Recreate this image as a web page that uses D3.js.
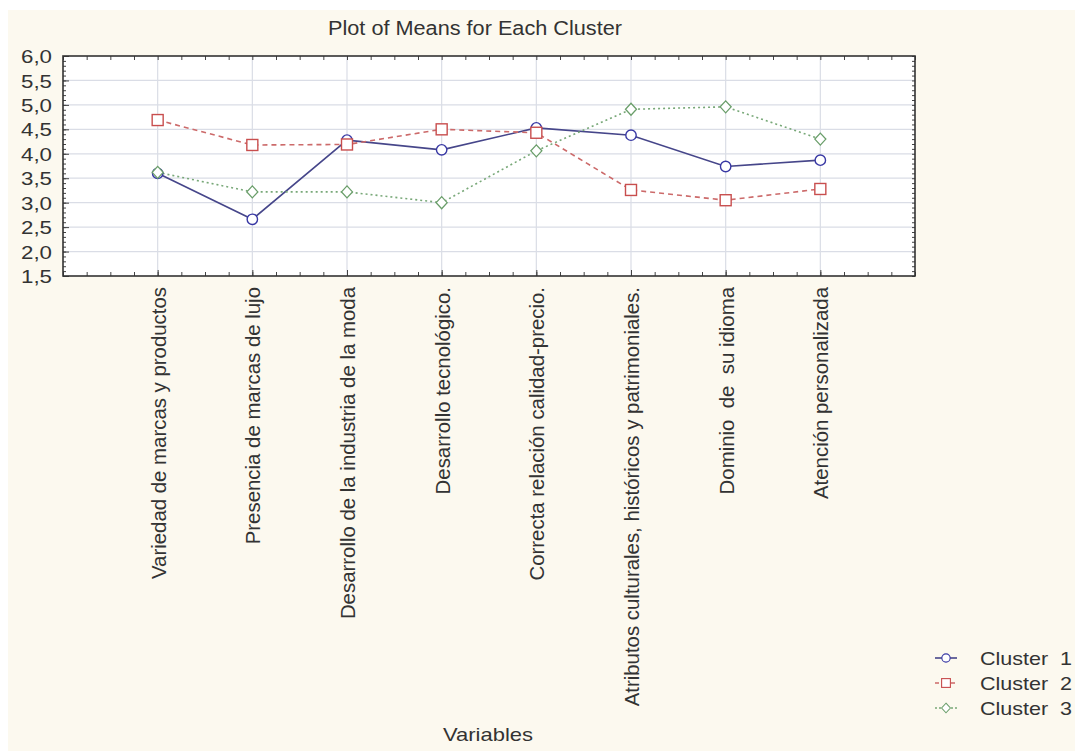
<!DOCTYPE html>
<html>
<head>
<meta charset="utf-8">
<script src="https://cdn.jsdelivr.net/npm/d3@7"></script>
<style>
  body { margin: 0; background: #fff; }
  svg text { font-family: "Liberation Sans", Arial, sans-serif; fill: #333; white-space: pre; }
</style>
</head>
<body>
<div id="chart"></div>
<script>
// data
const categories = [
  "Variedad de marcas y productos",
  "Presencia de marcas de lujo",
  "Desarrollo de la industria de la moda",
  "Desarrollo tecnológico.",
  "Correcta relación calidad-precio.",
  "Atributos culturales, históricos y patrimoniales.",
  "Dominio  de  su idioma",
  "Atención personalizada"
];
const cluster1 = [3.60, 2.66, 4.28, 4.08, 4.53, 4.38, 3.74, 3.87];
const cluster2 = [4.69, 4.18, 4.19, 4.50, 4.43, 3.26, 3.05, 3.28];
const cluster3 = [3.62, 3.22, 3.22, 3.00, 4.06, 4.91, 4.96, 4.30];
const seriesNames = ["Cluster  1", "Cluster  2", "Cluster  3"];
const yTicks = [1.5, 2.0, 2.5, 3.0, 3.5, 4.0, 4.5, 5.0, 5.5, 6.0];

const width = 1075, height = 751;
const margin = { top: 56, right: 160, bottom: 475, left: 63 };

const series = [
  { name: seriesNames[0], values: cluster1, line: "#46468a", mark: "#3838a4", dash: null, shape: "circle" },
  { name: seriesNames[1], values: cluster2, line: "#cc6a6a", mark: "#c84e4e", dash: "5,4", shape: "square" },
  { name: seriesNames[2], values: cluster3, line: "#78a878", mark: "#6a9e6a", dash: "2,3", shape: "diamond" }
];

const svg = d3.select("#chart").append("svg")
  .attr("width", width)
  .attr("height", height);

// cream page background
svg.append("rect").attr("x", 8).attr("y", 10)
  .attr("width", width - 8).attr("height", height - 10)
  .attr("fill", "#fcf9ef");

const x0 = margin.left, x1 = width - margin.right, y0 = margin.top, y1 = height - margin.bottom;

const x = d3.scaleLinear().domain([0, categories.length + 1]).range([x0, x1]);
const y = d3.scaleLinear().domain([1.5, 6]).range([y1, y0]);

// plot area
svg.append("rect").attr("x", x0).attr("y", y0)
  .attr("width", x1 - x0).attr("height", y1 - y0).attr("fill", "#fff");

// grid
svg.append("g").selectAll("line").data(yTicks.slice(1, -1)).join("line")
  .attr("x1", x0).attr("x2", x1)
  .attr("y1", d => y(d)).attr("y2", d => y(d))
  .attr("stroke", "#dadde6").attr("stroke-width", 1.2);
svg.append("g").selectAll("line").data(d3.range(1, categories.length + 1)).join("line")
  .attr("x1", d => x(d)).attr("x2", d => x(d))
  .attr("y1", y0).attr("y2", y1)
  .attr("stroke", "#dadde6").attr("stroke-width", 1.2);

// minor ticks
const minorY = d3.range(15, 61).map(d => d / 10);
const minorX = d3.range(0, (categories.length + 1) * 4 + 1).map(d => d / 4);
const tickStyle = g => g.call(g => g.select(".domain").remove())
  .selectAll("line").attr("stroke", "#444");

svg.append("g").attr("transform", `translate(${x0},0)`)
  .call(d3.axisLeft(y).tickValues(minorY).tickSize(-3).tickFormat("")).call(tickStyle);
svg.append("g").attr("transform", `translate(${x1},0)`)
  .call(d3.axisRight(y).tickValues(minorY).tickSize(-3).tickFormat("")).call(tickStyle);
svg.append("g").attr("transform", `translate(0,${y0})`)
  .call(d3.axisTop(x).tickValues(minorX).tickSize(-4).tickFormat("")).call(tickStyle);
svg.append("g").attr("transform", `translate(0,${y1})`)
  .call(d3.axisBottom(x).tickValues(minorX).tickSize(-4).tickFormat("")).call(tickStyle);

// y axis labels
svg.append("g").attr("transform", `translate(${x0},0)`)
  .call(d3.axisLeft(y).tickValues(yTicks).tickSize(-6)
    .tickFormat(d => d.toFixed(1).replace(".", ",")))
  .call(g => g.select(".domain").remove())
  .call(g => g.selectAll("line").attr("stroke", "#444"))
  .call(g => g.selectAll("text")
    .attr("x", -11).attr("dy", "0.35em")
    .attr("font-size", 19)
    .attr("textLength", 31).attr("lengthAdjust", "spacingAndGlyphs")
    .style("fill", "#333"));

// x axis labels (rotated)
svg.append("g").attr("transform", `translate(0,${y1})`)
  .call(d3.axisBottom(x).tickValues(d3.range(1, categories.length + 1)).tickSize(-6)
    .tickFormat(i => categories[i - 1]))
  .call(g => g.select(".domain").remove())
  .call(g => g.selectAll("line").attr("stroke", "#444"))
  .call(g => g.selectAll("text")
    .attr("transform", "rotate(-90)")
    .attr("x", -11).attr("y", 0).attr("dy", "0.36em")
    .attr("font-size", 20.4)
    .style("text-anchor", "end")
    .style("fill", "#333"));

// frame
svg.append("rect").attr("x", x0).attr("y", y0)
  .attr("width", x1 - x0).attr("height", y1 - y0)
  .attr("fill", "none").attr("stroke", "#333").attr("stroke-width", 1.6);

// symbols
function drawMark(g, shape, color) {
  if (shape === "circle") {
    g.append("circle").attr("r", 5.2).attr("fill", "#fff").attr("stroke", color).attr("stroke-width", 1.4);
  } else if (shape === "square") {
    g.append("rect").attr("x", -5.5).attr("y", -5.5).attr("width", 11).attr("height", 11)
      .attr("fill", "#fff").attr("stroke", color).attr("stroke-width", 1.4);
  } else {
    g.append("path").attr("d", "M0,-6L5.5,0L0,6L-5.5,0Z")
      .attr("fill", "#fff").attr("stroke", color).attr("stroke-width", 1.3);
  }
}

const line = d3.line().x((d, i) => x(i + 1)).y(d => y(d));

series.forEach(s => {
  svg.append("path").datum(s.values)
    .attr("d", line)
    .attr("fill", "none")
    .attr("stroke", s.line)
    .attr("stroke-width", 1.6)
    .attr("stroke-dasharray", s.dash);
});
series.forEach(s => {
  svg.append("g").selectAll("g").data(s.values).join("g")
    .attr("transform", (d, i) => `translate(${x(i + 1)},${y(d)})`)
    .each(function () { drawMark(d3.select(this), s.shape, s.mark); });
});

// title and axis title
svg.append("text").attr("x", 475).attr("y", 35)
  .attr("text-anchor", "middle").attr("font-size", 20)
  .attr("textLength", 294).attr("lengthAdjust", "spacingAndGlyphs")
  .text("Plot of Means for Each Cluster");

svg.append("text").attr("x", 488).attr("y", 741)
  .attr("text-anchor", "middle").attr("font-size", 19)
  .attr("textLength", 90).attr("lengthAdjust", "spacingAndGlyphs")
  .text("Variables");

// legend
const legend = svg.append("g").attr("transform", "translate(935,658)");
series.forEach((s, i) => {
  const row = legend.append("g").attr("transform", `translate(0,${i * 25})`);
  row.append("line").attr("x1", 0).attr("x2", 22)
    .attr("stroke", s.line).attr("stroke-width", 1.6)
    .attr("stroke-dasharray", s.dash ? (s.dash === "5,4" ? "4,4" : "2,2") : null);
  const m = row.append("g").attr("transform", "translate(11,0) scale(0.8)");
  drawMark(m, s.shape, s.mark);
  row.append("text").attr("x", 45).attr("dy", "0.35em")
    .attr("font-size", 19)
    .attr("textLength", 92).attr("lengthAdjust", "spacingAndGlyphs")
    .text(s.name);
});
</script>
</body>
</html>
